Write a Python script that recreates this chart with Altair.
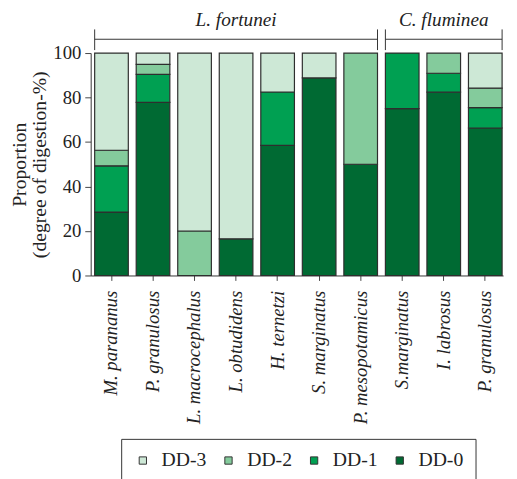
import json
import altair as alt
import pandas as pd

# ---- data ----
species = ["M. parananus", "P. granulosus", "L. macrocephalus", "L. obtudidens",
           "H. ternetzi", "S. marginatus", "P. mesopotamicus", "S.marginatus",
           "I. labrosus", "P. granulosus"]
dd0 = [28.5, 77.8, 0, 16.5, 58.5, 88.8, 50, 75, 82.4, 66.3]
dd1 = [20.8, 12.6, 0, 0, 24.0, 0, 0, 25, 8.5, 9.2]
dd2 = [7.0, 4.5, 20, 0, 0, 0, 50, 0, 9.1, 8.7]
dd3 = [43.7, 5.1, 80, 83.5, 17.5, 11.2, 0, 0, 0, 15.8]

classes = ["DD-3", "DD-2", "DD-1", "DD-0"]
class_colors = ["#cde8d6", "#84cb9c", "#00a052", "#006a33"]

group_names = ["L. fortunei", "C. fluminea"]
group_start = [0, 7]
group_end = [6, 9]

FONT = "Liberation Serif"

rows = []
for i in range(len(species)):
    for cls, vals, rank in (("DD-0", dd0, 0), ("DD-1", dd1, 1), ("DD-2", dd2, 2), ("DD-3", dd3, 3)):
        if vals[i] > 0:
            rows.append({"idx": i, "cls": cls, "value": vals[i], "rank": rank})
bars_df = pd.DataFrame(rows)
groups_df = pd.DataFrame({"name": group_names, "start": group_start, "end": group_end})

label_expr = "[" + ",".join(json.dumps(s) for s in species) + "][datum.value]"
xscale = alt.Scale(domain=list(range(len(species))), paddingInner=0.19,
                   paddingOuter=0.06, align=0.8)

bars = alt.Chart(bars_df).mark_bar(stroke="#2e2e2e", strokeWidth=1.2).encode(
    x=alt.X("idx:O", scale=xscale, title=None,
            axis=alt.Axis(labelExpr=label_expr, labelAngle=-90, labelAlign="right",
                          labelBaseline="middle", labelFont=FONT, labelFontSize=19,
                          labelFontStyle="italic", labelColor="#222", labelPadding=10,
                          tickSize=5, tickColor="#444", domainColor="#333",
                          domainWidth=1, tickWidth=1)),
    y=alt.Y("value:Q", stack="zero",
            scale=alt.Scale(domain=[0, 100], nice=False),
            title=["Proportion", "(degree of digestion-%)"],
            axis=alt.Axis(values=[0, 20, 40, 60, 80, 100], grid=False,
                          labelFont=FONT, labelFontSize=19, labelColor="#222",
                          titleFont=FONT, titleFontSize=20, titleFontWeight="normal",
                          titleLineHeight=21,
                          titleColor="#222", titlePadding=3, tickSize=6,
                          tickColor="#444", domainColor="#333", labelPadding=4)),
    color=alt.Color("cls:N", scale=alt.Scale(domain=classes, range=class_colors),
                    title=None,
                    legend=alt.Legend(orient="none", legendX=31, legendY=392,
                                      direction="horizontal", columns=4,
                                      symbolType="square", symbolSize=55,
                                      symbolStrokeColor="#333", symbolStrokeWidth=1,
                                      labelFont=FONT, labelFontSize=20,
                                      labelColor="#222", labelOffset=9,
                                      columnPadding=12, padding=12,
                                      strokeColor="#333", fillColor="white")),
    order=alt.Order("rank:Q", sort="ascending"),
)

base_g = alt.Chart(groups_df)
hline = base_g.mark_rule(color="#333", strokeWidth=1).encode(
    x=alt.X("start:O", bandPosition=0, scale=xscale),
    x2=alt.X2("end", bandPosition=1),
    y=alt.value(-14),
)
ltick = base_g.mark_rule(color="#333", strokeWidth=1).encode(
    x=alt.X("start:O", bandPosition=0, scale=xscale),
    y=alt.value(-24), y2=alt.value(-3),
)
rtick = base_g.mark_rule(color="#333", strokeWidth=1).encode(
    x=alt.X("end:O", bandPosition=1, scale=xscale),
    y=alt.value(-24), y2=alt.value(-3),
)
glabel = base_g.transform_calculate(mid="(datum.start + datum.end) / 2").mark_text(
    font=FONT, fontSize=19.5, fontStyle="italic", color="#222", baseline="middle"
).encode(
    x=alt.X("mid:O", scale=xscale),
    y=alt.value(-33),
    text="name:N",
)

chart = alt.layer(bars, hline, ltick, rtick, glabel).properties(
    width=419, height=226,
    autosize=alt.AutoSizeParams(type="none"),
    padding={"left": 84, "top": 42, "right": 6, "bottom": 203},
).configure_view(stroke=None).configure_axis(labelFlush=False)

chart.save("out.html", embed_options={"renderer": "svg", "actions": False})
